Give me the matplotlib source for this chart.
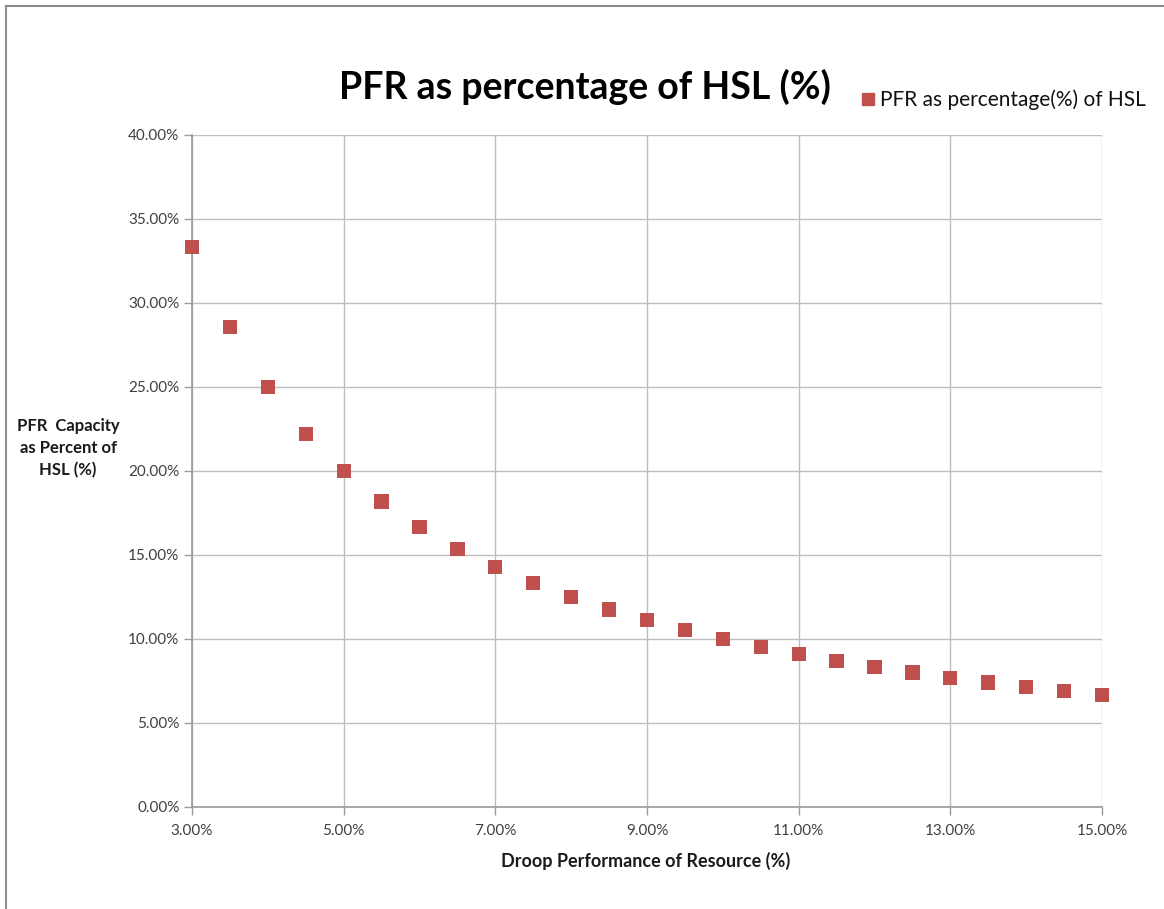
import matplotlib
matplotlib.use("Agg")
import matplotlib.pyplot as plt
from matplotlib.lines import Line2D

droop = [3.0, 3.5, 4.0, 4.5, 5.0, 5.5, 6.0, 6.5, 7.0, 7.5, 8.0, 8.5, 9.0,
         9.5, 10.0, 10.5, 11.0, 11.5, 12.0, 12.5, 13.0, 13.5, 14.0, 14.5, 15.0]
pfr_pct = [33.33, 28.57, 25.00, 22.22, 20.00, 18.18, 16.67, 15.38, 14.29,
           13.33, 12.50, 11.76, 11.11, 10.53, 10.00, 9.52, 9.09, 8.70, 8.33,
           8.00, 7.69, 7.41, 7.14, 6.90, 6.67]
x_ticks = [3, 5, 7, 9, 11, 13, 15]
y_ticks = [0, 5, 10, 15, 20, 25, 30, 35, 40]

plt.rcParams['font.family'] = ['Lato', 'DejaVu Sans']

fig = plt.figure(figsize=(11.64, 9.09), dpi=100)
ax = fig.add_axes([192/1164, 1-807/909, (1102-192)/1164, (807-135)/909])

red = '#C0504D'
ax.scatter(droop, pfr_pct, marker='s', s=105, color=red, edgecolors='none', zorder=3, clip_on=False,
           label='PFR as percentage(%) of HSL')

ax.set_xlim(3, 15)
ax.set_ylim(0, 40)
ax.set_xticks(x_ticks)
ax.set_yticks(y_ticks)
ax.set_xticklabels([f"{v:.2f}%" for v in x_ticks])
ax.set_yticklabels([f"{v:.2f}%" for v in y_ticks])
ax.grid(True, color='#BDBDBD', linewidth=1.0)
ax.set_axisbelow(True)
for s in ['top', 'right']:
    ax.spines[s].set_visible(False)
for s in ['left', 'bottom']:
    ax.spines[s].set_color('#9A9A9A')
    ax.spines[s].set_linewidth(1.2)
ax.tick_params(axis='both', colors='#9A9A9A', length=6, width=1.0, labelcolor='#404040', labelsize=11)
ax.tick_params(axis='x', pad=6)
ax.tick_params(axis='y', pad=3)

fig.text(585/1164, 1-87/909, 'PFR as percentage of HSL (%)', fontsize=27, fontweight='bold',
         ha='center', va='center', color='black')
fig.text(68/1164, 1-448/909, 'PFR  Capacity\nas Percent of\nHSL (%)', fontsize=12, fontweight='bold',
         ha='center', va='center', color='#1a1a1a', linespacing=1.45)
fig.text(646/1164, 1-861/909, 'Droop Performance of Resource (%)', fontsize=13, fontweight='bold',
         ha='center', va='center', color='#1a1a1a')

handle = Line2D([], [], marker='s', linestyle='none', color=red, markersize=9)
fig.legend([handle], ['PFR as percentage(%) of HSL'], loc='center left',
           bbox_to_anchor=(849/1164, 1-100/909), frameon=False, fontsize=15,
           handletextpad=0.1, handlelength=1.0, borderaxespad=0, labelcolor='#111111')

# outer chart border (top and left visible)
fig.add_artist(Line2D([6/1164, 1.0], [1-6/909, 1-6/909], color='#8C8C8C', linewidth=1.5,
                      transform=fig.transFigure))
fig.add_artist(Line2D([6/1164, 6/1164], [0, 1-6/909], color='#8C8C8C', linewidth=1.5,
                      transform=fig.transFigure))

fig.savefig('out.png', dpi=100)
